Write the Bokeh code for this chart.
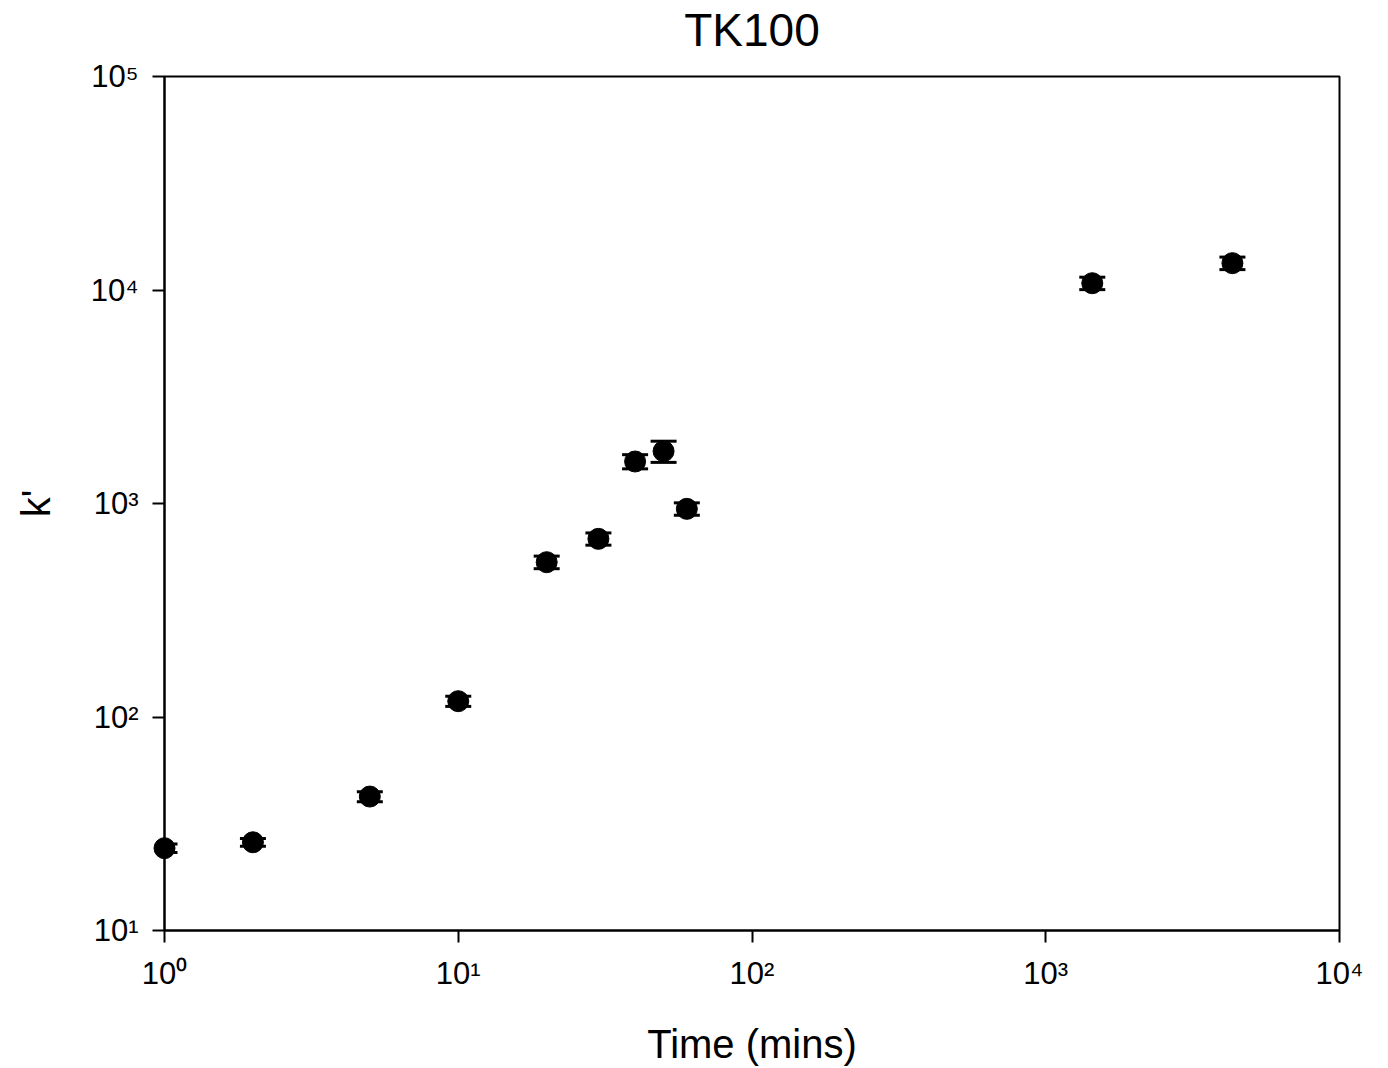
import math
from bokeh.plotting import figure
from bokeh.models import ColumnDataSource, Whisker, TeeHead, FixedTicker
from bokeh.core.properties import value
from bokeh.embed import file_html
from bokeh.resources import INLINE

# data
time_mins = [1, 2, 5, 10, 20, 30, 40, 50, 60, 1440, 4320]
k_prime = [24.3, 25.9, 42.4, 118.6, 531, 683, 1573, 1758, 944, 10760, 13360]
k_err = [1.1, 1.1, 2.3, 6.5, 36, 45, 120, 200, 63, 720, 900]

x_ticks = [1, 10, 100, 1000, 10000]
x_tick_labels = ["10⁰", "10¹", "10²", "10³", "10⁴"]
y_ticks = [10, 100, 1000, 10000, 100000]
y_tick_labels = ["10¹", "10²", "10³", "10⁴", "10⁵"]

TITLE = "TK100"
FONT = "Liberation Sans"

X_RANGE = (1, 10000)
Y_RANGE = (10, 100000)
FRAME_L, FRAME_R, FRAME_T, FRAME_B = 164, 1339, 76, 930
W, H = 1388, 1068
TITLE_GAP = 47  # px between frame top and title anchor

src = ColumnDataSource(dict(
    x=time_mins,
    y=k_prime,
    upper=[v + e for v, e in zip(k_prime, k_err)],
    lower=[v - e for v, e in zip(k_prime, k_err)],
))

p = figure(
    width=W, height=H,
    x_axis_type="log", y_axis_type="log",
    x_range=X_RANGE, y_range=Y_RANGE,
    output_backend="svg", toolbar_location=None,
    min_border_left=FRAME_L, min_border_right=W - FRAME_R,
    min_border_top=FRAME_T, min_border_bottom=H - FRAME_B,
)

p.grid.visible = False
p.outline_line_color = "black"
p.outline_line_width = 2
p.outline_line_alpha = 1
p.background_fill_color = "white"
p.border_fill_color = "white"

for ax, ticks, labels in ((p.xaxis[0], x_ticks, x_tick_labels), (p.yaxis[0], y_ticks, y_tick_labels)):
    ax.ticker = FixedTicker(ticks=ticks, minor_ticks=[])
    ax.major_label_overrides = {float(t): l for t, l in zip(ticks, labels)}
    ax.major_label_text_font = FONT
    ax.major_label_text_font_size = "31px"
    ax.major_label_text_color = "black"
    ax.axis_label_text_font = FONT
    ax.axis_label_text_font_size = "40px"
    ax.axis_label_text_font_style = "normal"
    ax.axis_label_text_color = "black"
    ax.axis_line_width = 2
    ax.axis_line_color = "black"
    ax.major_tick_line_width = 2
    ax.major_tick_line_color = "black"
    ax.major_tick_out = 12
    ax.major_tick_in = 0
    ax.minor_tick_line_color = None

p.xaxis.axis_label = "Time (mins)"
p.yaxis.axis_label = "k'"
p.xaxis.major_label_standoff = 13
p.yaxis.major_label_standoff = 14
p.xaxis.axis_label_standoff = 28
p.yaxis.axis_label_standoff = 30
p.yaxis.major_label_orientation = "horizontal"

whisk = Whisker(
    source=src, base="x", upper="upper", lower="lower", dimension="height",
    line_color="black", line_width=2,
    upper_head=TeeHead(size=26, line_width=3, line_color="black"),
    lower_head=TeeHead(size=26, line_width=3, line_color="black"),
    level="annotation",
)
p.add_layout(whisk)

r = p.scatter("x", "y", source=src, size=21, marker="circle",
              fill_color="black", line_color="black")
r.level = "overlay"

# chart title: centred over the frame, just above its top edge
decade_px = (FRAME_B - FRAME_T) / (math.log10(Y_RANGE[1]) - math.log10(Y_RANGE[0]))
title_x = math.sqrt(X_RANGE[0] * X_RANGE[1])
title_y = 10 ** (math.log10(Y_RANGE[1]) + TITLE_GAP / decade_px)
t = p.text(x=[title_x], y=[title_y], text=[TITLE],
           text_font=value(FONT), text_font_size="46px", text_color="black",
           text_align="center", text_baseline="alphabetic")
t.level = "overlay"

open("out.html", "w").write(file_html(p, INLINE))
